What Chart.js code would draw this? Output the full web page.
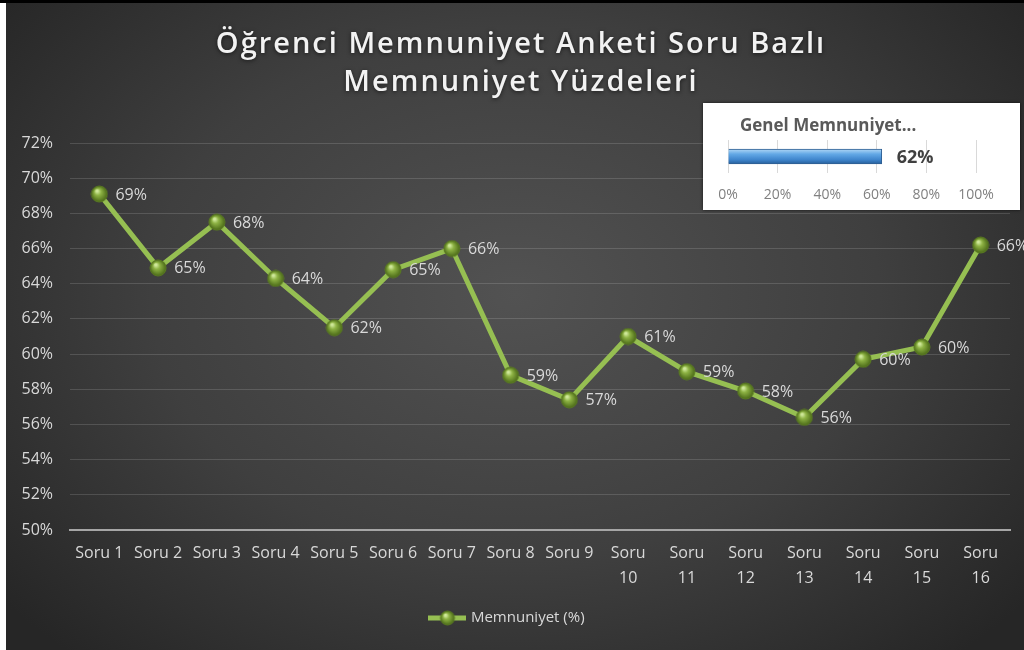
<!DOCTYPE html>
<html lang="tr">
<head>
<meta charset="utf-8">
<title>Öğrenci Memnuniyet Anketi</title>
<script src="https://cdn.jsdelivr.net/npm/chart.js@4.4.1/dist/chart.umd.min.js"></script>
<style>
    html, body { margin: 0; padding: 0; width: 1024px; height: 650px; overflow: hidden; background: #fff; }
    #topLine { position: absolute; left: 0; top: 0; width: 1024px; height: 3px; background: #000; }
    #chartBox {
        position: absolute; left: 6px; top: 3px; width: 1018px; height: 647px;
        background: radial-gradient(ellipse 65% 75% at 50% 45%, #525252 0%, #3f3f3f 55%, #262626 100%);
    }
    #insetBox {
        position: absolute; left: 703px; top: 103px; width: 317px; height: 107px;
        background: #fff; box-shadow: 0 0 3px rgba(0, 0, 0, 0.7);
    }
</style>
</head>
<body>
<div id="topLine"></div>
<div id="chartBox"><canvas id="satisfactionLineChart"></canvas></div>
<div id="insetBox"><canvas id="overallBarChart"></canvas></div>

<script>
// chart values
const questionLabels = ["Soru 1", "Soru 2", "Soru 3", "Soru 4", "Soru 5", "Soru 6", "Soru 7", "Soru 8", "Soru 9",
    ["Soru", "10"], ["Soru", "11"], ["Soru", "12"], ["Soru", "13"], ["Soru", "14"], ["Soru", "15"], ["Soru", "16"]];
const satisfaction = [69.1, 64.9, 67.5, 64.3, 61.5, 64.8, 66.0, 58.8, 57.4, 61.0, 59.0, 57.9, 56.4, 59.7, 60.4, 66.2];
const seriesName = "Memnuniyet (%)";
const titleLines = ["Öğrenci Memnuniyet Anketi Soru Bazlı", "Memnuniyet Yüzdeleri"];

const overallTitle = "Genel Memnuniyet...";
const overallValue = [62];

const FONT = '"Open Sans", "DejaVu Sans", sans-serif';
const LINE_GREEN = "#96bf52";

// green ball marker
function makeSphere(r) {
    const c = document.createElement("canvas");
    c.width = r * 2 + 2;
    c.height = r * 2 + 2;
    const g = c.getContext("2d");
    const cx = r + 1, cy = r + 1;
    const grad = g.createRadialGradient(cx - r * 0.3, cy - r * 0.4, 1, cx, cy, r);
    grad.addColorStop(0, "#cfe89a");
    grad.addColorStop(0.35, "#8db243");
    grad.addColorStop(1, "#4b6a18");
    g.beginPath();
    g.arc(cx, cy, r, 0, Math.PI * 2);
    g.fillStyle = grad;
    g.fill();
    g.lineWidth = 1;
    g.strokeStyle = "#5a7a22";
    g.stroke();
    return c;
}

function makeLegendMarker() {
    const c = document.createElement("canvas");
    c.width = 38;
    c.height = 16;
    const g = c.getContext("2d");
    g.strokeStyle = LINE_GREEN;
    g.lineWidth = 5;
    g.beginPath();
    g.moveTo(0, 8);
    g.lineTo(38, 8);
    g.stroke();
    g.drawImage(makeSphere(7), 11, 0);
    return c;
}

// two-line title with a bit of letter spacing, like the original
const spacedTitle = {
    id: "spacedTitle",
    afterDraw(chart) {
        const ctx = chart.ctx;
        ctx.save();
        ctx.font = "600 29px " + FONT;
        ctx.letterSpacing = "2px";
        ctx.fillStyle = "#f2f2f2";
        ctx.textAlign = "center";
        ctx.textBaseline = "middle";
        ctx.shadowColor = "rgba(0,0,0,0.6)";
        ctx.shadowBlur = 4;
        ctx.shadowOffsetY = 1;
        titleLines.forEach((line, i) => ctx.fillText(line, 515, 42 + i * 38));
        ctx.restore();
    }
};

const pointLabels = {
    id: "pointLabels",
    afterDatasetsDraw(chart) {
        const meta = chart.getDatasetMeta(0);
        const ctx = chart.ctx;
        ctx.save();
        ctx.font = "16px " + FONT;
        ctx.fillStyle = "#d9d9d9";
        ctx.textAlign = "left";
        ctx.textBaseline = "middle";
        meta.data.forEach((pt, i) => {
            ctx.fillText(Math.round(satisfaction[i]) + "%", pt.x + 16, pt.y + 1);
        });
        ctx.restore();
    }
};

new Chart(document.getElementById("satisfactionLineChart").getContext("2d"), {
    type: "line",
    data: {
        labels: questionLabels,
        datasets: [{
            label: seriesName,
            data: satisfaction,
            borderColor: LINE_GREEN,
            borderWidth: 5,
            tension: 0,
            pointStyle: makeSphere(8),
            pointRadius: 8,
            pointHoverRadius: 8
        }]
    },
    options: {
        responsive: true,
        maintainAspectRatio: false,
        animation: false,
        layout: { padding: { left: 0, right: 14, top: 140, bottom: 14.5 } },
        plugins: {
            title: { display: false },
            legend: {
                position: "bottom",
                labels: {
                    usePointStyle: true,
                    pointStyle: makeLegendMarker(),
                    pointStyleWidth: 32,
                    color: "#d9d9d9",
                    font: { family: FONT, size: 15 },
                    padding: 10
                }
            },
            tooltip: { enabled: false }
        },
        scales: {
            x: {
                offset: true,
                grid: { display: false, drawTicks: false },
                border: { display: true, color: "#a6a6a6", width: 2 },
                ticks: { color: "#d9d9d9", font: { family: FONT, size: 16, lineHeight: 1.55 }, padding: 11, maxRotation: 0, autoSkip: false },
                afterFit(scale) { scale.height = 70.5; }
            },
            y: {
                min: 50,
                max: 72,
                grid: { color: "rgba(255,255,255,0.14)", drawTicks: false },
                border: { display: false },
                ticks: { stepSize: 2, color: "#d9d9d9", font: { family: FONT, size: 16 }, padding: 17, callback: v => v + "%" },
                afterFit(scale) { scale.width = 64; }
            }
        }
    },
    plugins: [pointLabels, spacedTitle]
});

// small "overall" bar chart in the white box
const insetText = {
    id: "insetText",
    afterDatasetsDraw(chart) {
        const ctx = chart.ctx;
        const bar = chart.getDatasetMeta(0).data[0];
        ctx.save();
        ctx.textBaseline = "middle";
        ctx.textAlign = "left";
        ctx.fillStyle = "#595959";
        ctx.font = "bold 17px " + FONT;
        ctx.fillText(overallTitle, 37, 23);
        ctx.fillStyle = "#404040";
        ctx.font = "bold 18px " + FONT;
        ctx.fillText(overallValue[0] + "%", bar.x + 15, bar.y + 1);
        ctx.restore();
    }
};

new Chart(document.getElementById("overallBarChart").getContext("2d"), {
    type: "bar",
    data: {
        labels: [overallTitle],
        datasets: [{
            data: overallValue,
            barThickness: 15,
            borderWidth: 1,
            borderColor: "#2f5f93",
            backgroundColor(context) {
                const chart = context.chart;
                if (!chart.chartArea) return "#5b9bd5";
                const yc = chart.scales.y.getPixelForValue(0);
                const g = chart.ctx.createLinearGradient(0, yc - 8, 0, yc + 8);
                g.addColorStop(0, "#b9dcf7");
                g.addColorStop(0.35, "#62a8e6");
                g.addColorStop(0.7, "#3f85cc");
                g.addColorStop(1, "#245a94");
                return g;
            }
        }]
    },
    options: {
        indexAxis: "y",
        responsive: true,
        maintainAspectRatio: false,
        animation: false,
        layout: { padding: { left: 25, right: 44, top: 37, bottom: 0 } },
        plugins: { legend: { display: false }, tooltip: { enabled: false } },
        scales: {
            x: {
                min: 0,
                max: 100,
                grid: { color: "#d9d9d9", drawTicks: false },
                border: { display: false },
                ticks: { stepSize: 20, color: "#808080", font: { family: FONT, size: 14 }, padding: 14, callback: v => v + "%" },
                afterFit(scale) { scale.height = 37; }
            },
            y: { display: false }
        }
    },
    plugins: [insetText]
});
</script>
</body>
</html>
